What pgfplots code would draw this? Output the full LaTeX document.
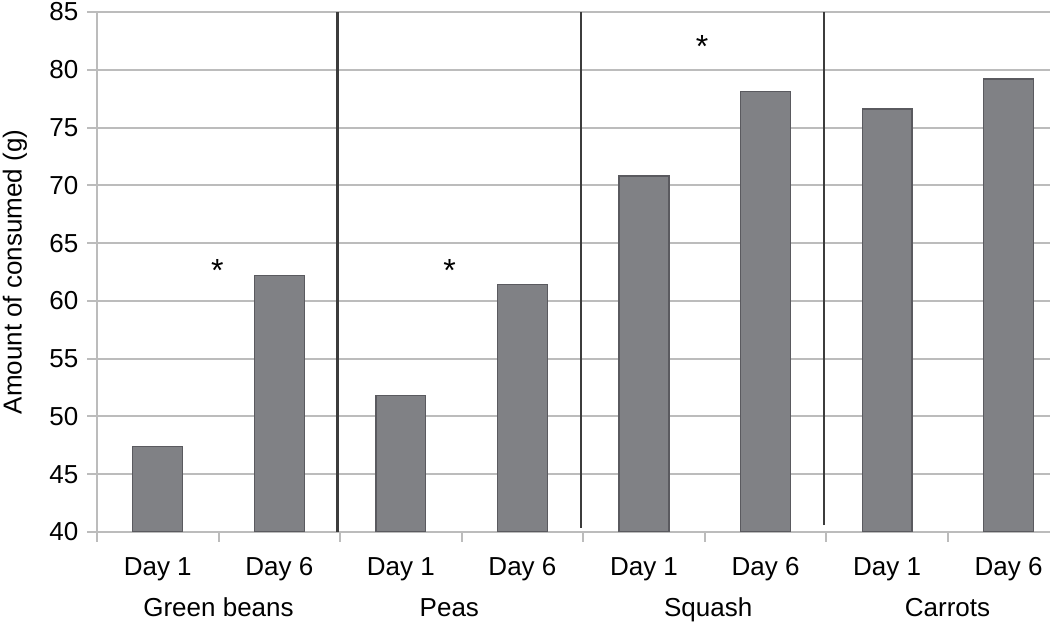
\documentclass[border=0pt]{standalone}
\usepackage{fontspec}
\setmainfont{Liberation Sans}
\usepackage{pgfplots}
\pgfplotsset{compat=1.18}
\definecolor{barfill}{RGB}{128,129,133}
\definecolor{baredge}{RGB}{90,90,95}
\definecolor{gridc}{RGB}{188,188,188}
\definecolor{sepc}{RGB}{60,60,60}
\newcommand\fs{\fontsize{19.5}{22}\selectfont}
\begin{document}
\begin{tikzpicture}
\begin{axis}[name=ax,
  scale only axis, width=714.75pt, height=390pt,
  xmin=-0.5, xmax=7.34, ymin=40, ymax=85,
  axis x line*=bottom, axis y line*=left,
  axis line style={-, draw=gridc, line width=1.5pt},
  ytick={40,45,...,85},
  ymajorgrids, major grid style={draw=gridc, line width=1.5pt},
  tick align=outside, major tick length=7.5pt,
  ytick style={draw=gridc, line width=1.5pt},
  xtick={0,...,7},
  xticklabels={Day 1, Day 6, Day 1, Day 6, Day 1, Day 6, Day 1, Day 6},
  xtick style={draw=none},
  extra x ticks={-0.5,0.5,1.5,2.5,3.5,4.5,5.5,6.5},
  extra x tick labels={},
  extra x tick style={xtick style={draw=gridc, line width=1.5pt}},
  /pgf/number format/assume math mode=true,
  tick label style={font=\fs, text=black},
  yticklabel style={xshift=-3pt},
  xticklabel style={anchor=base, yshift=-25.5pt},
]
\addplot[ybar, bar width=0.41, fill=barfill, draw=baredge, line width=0.9pt]
  coordinates {(0,47.4) (1,62.2) (2,51.8) (3,61.4) (4,70.8) (5,78.1) (6,76.6) (7,79.2)};
\addplot[sepc, line width=1.9pt] coordinates {(1.48,40) (1.48,85)};
\addplot[sepc, line width=1.9pt] coordinates {(3.48,40.35) (3.48,85)};
\addplot[sepc, line width=1.9pt] coordinates {(5.48,40.6) (5.48,85)};
\node[font=\fontsize{24}{26}\selectfont] at (axis cs:0.49,62.6) {*};
\node[font=\fontsize{24}{26}\selectfont] at (axis cs:2.40,62.6) {*};
\node[font=\fontsize{24}{26}\selectfont] at (axis cs:4.477,82.0) {*};
\end{axis}
\node[font=\fs, anchor=base] at ([shift={(91.125pt,-63.75pt)}]ax.south west) {Green beans};
\node[font=\fs, anchor=base] at ([shift={(264.26pt,-63.75pt)}]ax.south west) {Peas};
\node[font=\fs, anchor=base] at ([shift={(458.36pt,-63.75pt)}]ax.south west) {Squash};
\node[font=\fs, anchor=base] at ([shift={(637.875pt,-63.75pt)}]ax.south west) {Carrots};
\node[font=\fs, rotate=90, anchor=center] at ([xshift=-61.5pt]ax.west) {Amount of consumed (g)};
\pgfresetboundingbox
\path[use as bounding box] ([shift={(-72.75pt,-69.75pt)}]ax.south west) rectangle ([shift={(0pt,9pt)}]ax.north east);
\end{tikzpicture}
\end{document}
